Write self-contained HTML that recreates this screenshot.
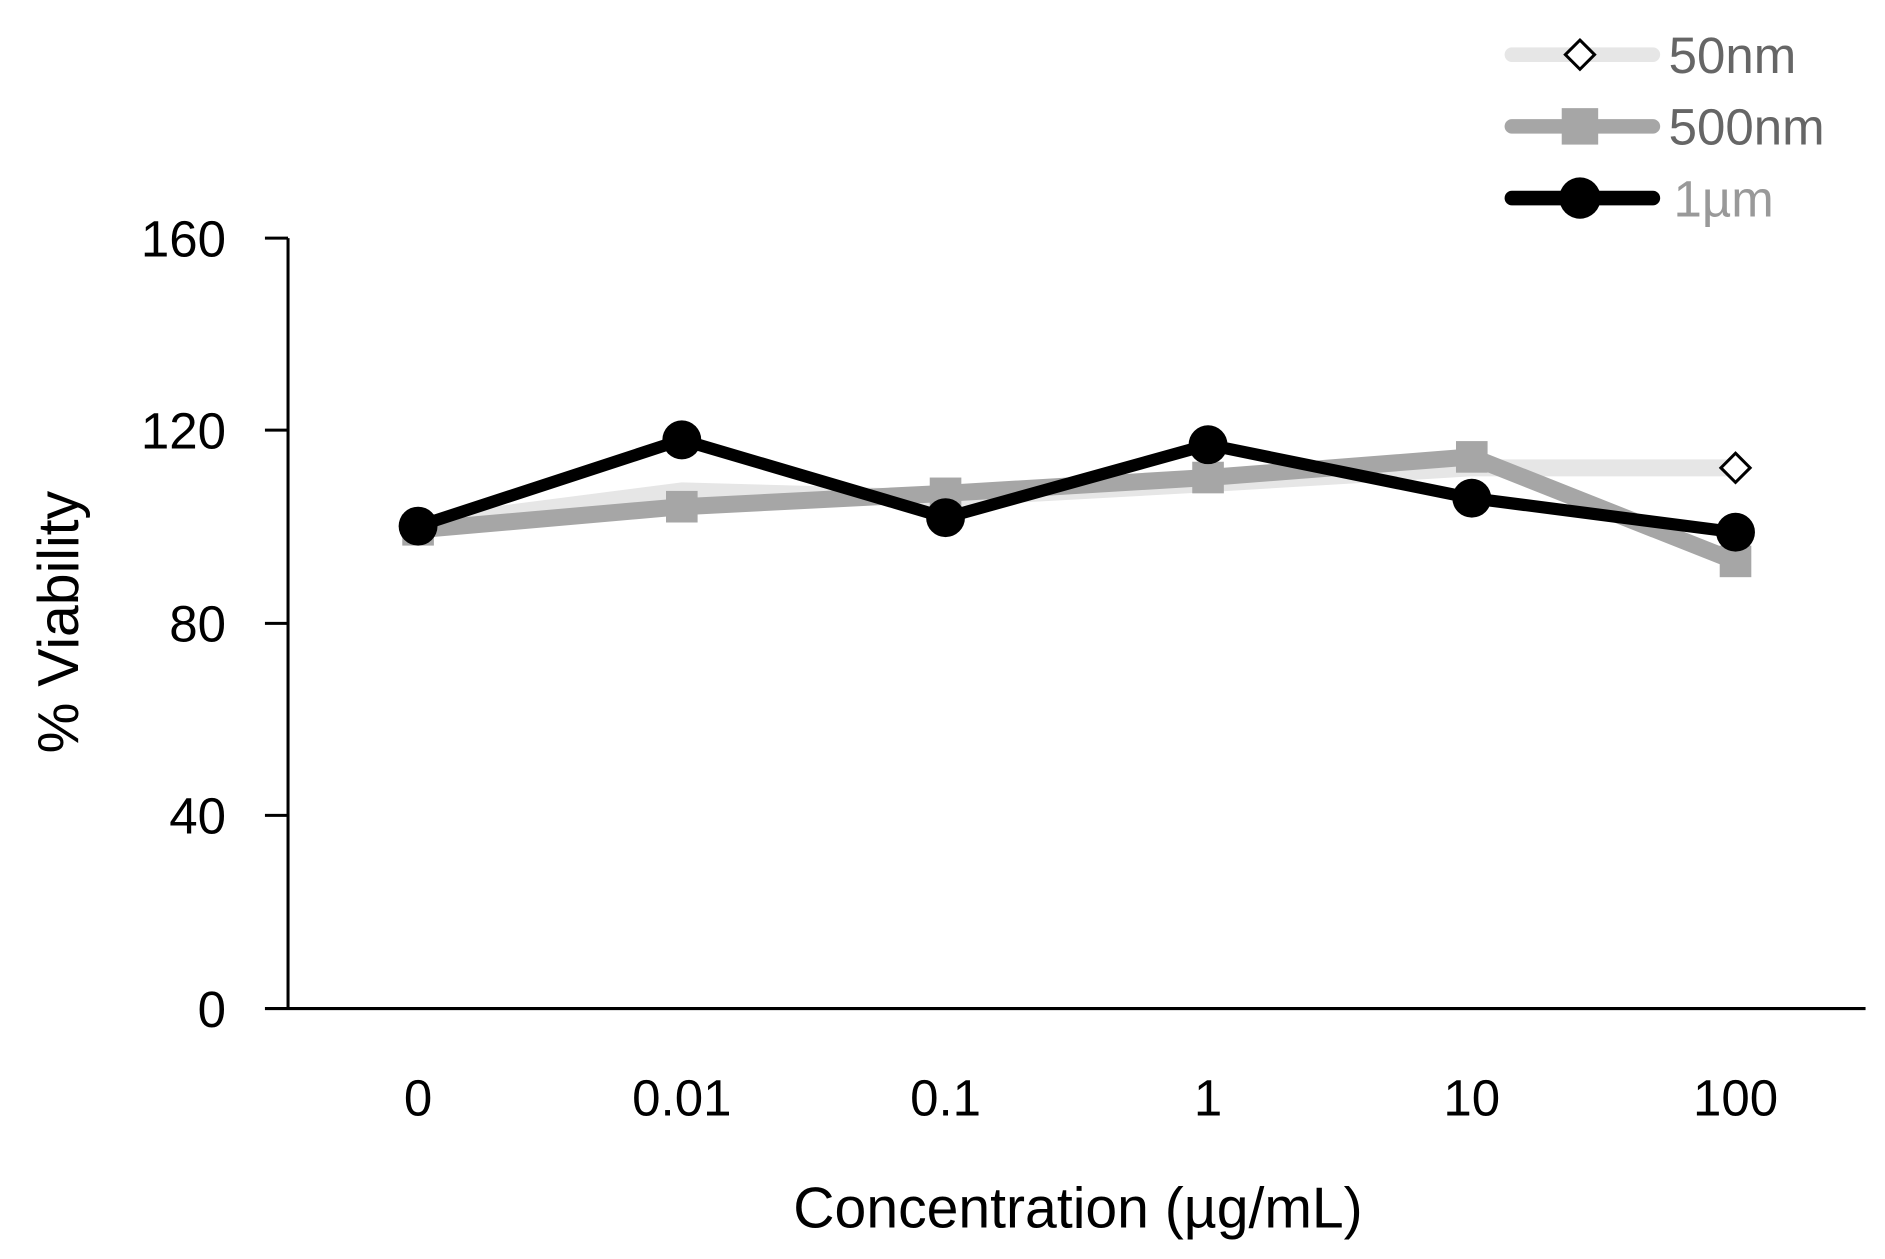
<!DOCTYPE html>
<html><head><style>html,body{margin:0;padding:0;background:#fff}</style></head>
<body>
<svg width="1885" height="1254" viewBox="0 0 1551 1032" preserveAspectRatio="none" xmlns="http://www.w3.org/2000/svg" font-family="Liberation Sans, sans-serif">
<rect width="1551" height="1032" fill="#fff"/>
<line x1="237" y1="196" x2="237" y2="830" stroke="#000" stroke-width="2.5"/>
<line x1="218" y1="830" x2="1535" y2="830" stroke="#000" stroke-width="2.5"/>
<g stroke="#000" stroke-width="2.5">
<line x1="218" y1="196" x2="237" y2="196"/><line x1="218" y1="354" x2="237" y2="354"/>
<line x1="218" y1="513" x2="237" y2="513"/><line x1="218" y1="671" x2="237" y2="671"/>
</g>
<g font-size="42" text-anchor="end" fill="#000">
<text x="186" y="211">160</text><text x="186" y="369">120</text><text x="186" y="528">80</text>
<text x="186" y="686">40</text><text x="186" y="845">0</text>
</g>
<g font-size="42" text-anchor="middle" fill="#000">
<text x="344" y="918">0</text><text x="561" y="918">0.01</text><text x="778" y="918">0.1</text>
<text x="994" y="918">1</text><text x="1211" y="918">10</text><text x="1428" y="918">100</text>
</g>
<text x="887" y="1010" font-size="47" text-anchor="middle">Concentration (µg/mL)</text>
<text transform="translate(64,512) rotate(-90)" font-size="47" text-anchor="middle">% Viability</text>
<polyline points="344,432 561,404 778,410 994,398 1211,385 1428,385" fill="none" stroke="#e6e6e6" stroke-width="14" stroke-linejoin="round"/>
<polyline points="344,436 561,417 778,406 994,393 1211,376 1428,462" fill="none" stroke="#a6a6a6" stroke-width="14" stroke-linejoin="round"/>
<g fill="#a6a6a6">
<rect x="331" y="423" width="26" height="26"/><rect x="548" y="404" width="26" height="26"/>
<rect x="765" y="393" width="26" height="26"/><rect x="981" y="380" width="26" height="26"/>
<rect x="1198" y="363" width="26" height="26"/><rect x="1415" y="449" width="26" height="26"/>
</g>
<polyline points="344,433 561,362 778,426 994,366 1211,410 1428,438" fill="none" stroke="#000" stroke-width="10" stroke-linejoin="round"/>
<g fill="#000">
<circle cx="344" cy="433" r="16"/><circle cx="561" cy="362" r="16"/><circle cx="778" cy="426" r="16"/>
<circle cx="994" cy="366" r="16"/><circle cx="1211" cy="410" r="16"/><circle cx="1428" cy="438" r="16"/>
</g>
<polygon points="1428,373 1440,385 1428,397 1416,385" fill="#fff" stroke="#000" stroke-width="2.5"/>
<line x1="1244" y1="45" x2="1360" y2="45" stroke="#e6e6e6" stroke-width="12" stroke-linecap="round"/>
<polygon points="1300,33 1312,45 1300,57 1288,45" fill="#fff" stroke="#000" stroke-width="2.5"/>
<line x1="1244" y1="104" x2="1360" y2="104" stroke="#a6a6a6" stroke-width="12" stroke-linecap="round"/>
<rect x="1285" y="89" width="30" height="30" fill="#a6a6a6"/>
<line x1="1244" y1="163" x2="1360" y2="163" stroke="#000" stroke-width="12" stroke-linecap="round"/>
<circle cx="1300" cy="163" r="17" fill="#000"/>
<g font-size="42">
<text x="1373" y="60" fill="#666">50nm</text>
<text x="1373" y="119" fill="#666">500nm</text>
<text x="1377" y="178" fill="#999">1µm</text>
</g>
</svg>
</body></html>
